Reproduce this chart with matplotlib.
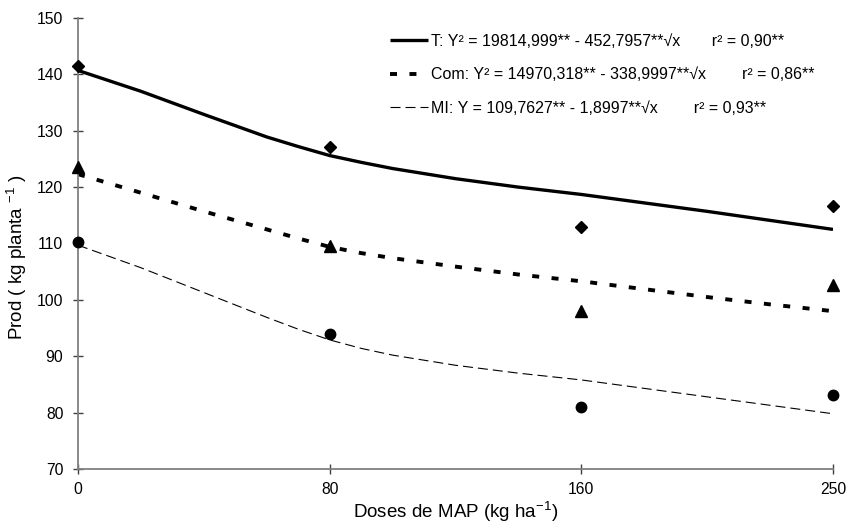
import matplotlib
matplotlib.use("Agg")
import matplotlib.pyplot as plt
import numpy as np

plt.rcParams['font.family'] = ['Liberation Sans', 'DejaVu Sans']
plt.rcParams['mathtext.fontset'] = 'custom'
plt.rcParams['mathtext.rm'] = 'Liberation Sans'
plt.rcParams['mathtext.it'] = 'Liberation Sans:italic'

# doses de MAP (categorias no eixo x)
doses = ['0', '80', '160', '250']

# valores observados
obs_T = [141.5, 127.2, 113.0, 116.6]
obs_Com = [123.5, 109.5, 98.0, 102.6]
obs_MI = [110.3, 94.0, 81.0, 83.2]

# curvas ajustadas (posicao em unidades de categoria)
curve_pos = [0, 0.25, 0.5, 0.75, 0.875, 1, 1.125, 1.25, 1.5, 1.75, 2, 2.25, 2.5, 2.75, 3]
fit_T = [140.7, 137.0, 132.9, 128.9, 127.2, 125.6, 124.4, 123.3, 121.5, 120.0, 118.7,
         117.2, 115.7, 114.1, 112.5]
fit_Com = [122.3, 119.0, 115.7, 112.5, 110.9, 109.4, 108.3, 107.4, 105.9, 104.5, 103.3,
           101.9, 100.5, 99.2, 98.0]
fit_MI = [109.7, 105.7, 101.3, 96.9, 94.8, 92.9, 91.4, 90.2, 88.4, 87.0, 85.8,
          84.3, 82.8, 81.3, 79.8]

labels = [
    "T: Y\u00b2 = 19814,999** - 452,7957**\u221ax       r\u00b2 = 0,90**",
    "Com: Y\u00b2 = 14970,318** - 338,9997**\u221ax        r\u00b2 = 0,86**",
    "MI: Y = 109,7627** - 1,8997**\u221ax        r\u00b2 = 0,93**",
]

fig = plt.figure(figsize=(8.49, 5.27), dpi=100)
ax = fig.add_axes([78 / 849, 1 - 469 / 527, 755 / 849, 451 / 527])

x = np.arange(len(doses))

l1, = ax.plot(curve_pos, fit_T, color='black', lw=2.4, solid_capstyle='butt')
l2, = ax.plot(curve_pos, fit_Com, color='black', lw=2.8, dashes=(1.8, 3.2))
l3, = ax.plot(curve_pos, fit_MI, color='black', lw=0.8, dashes=(9, 4.5))

ax.plot(x, obs_T, 'D', color='black', ms=6, clip_on=False, zorder=5)
ax.plot(x, obs_Com, '^', color='black', ms=8, clip_on=False, zorder=5)
ax.plot(x, obs_MI, 'o', color='black', ms=7.5, clip_on=False, zorder=5)

ax.set_xlim(0, 3)
ax.set_ylim(70, 150)
ax.set_yticks(np.arange(70, 151, 10))
ax.set_xticks(x)
ax.set_xticklabels(doses)

for s in ['top', 'right']:
    ax.spines[s].set_visible(False)
for s in ['left', 'bottom']:
    ax.spines[s].set_color('#808080')
    ax.spines[s].set_linewidth(1.3)

ax.tick_params(axis='both', direction='inout', length=7, width=1,
               color='#404040', labelsize=11.3)
ax.tick_params(axis='y', pad=7)
ax.tick_params(axis='x', pad=6)

ax.set_xlabel('Doses de MAP (kg ha$^{-1}$)', fontsize=13.5, labelpad=2)
ax.set_ylabel('Prod ( kg planta $^{-1}$ )', fontsize=13.5)
ax.yaxis.set_label_coords(-0.065, 0.47)

ax.legend([l1, l2, l3], labels, loc='upper left', bbox_to_anchor=(0.413, 0.965),
          frameon=False, fontsize=11.5, handlelength=2.4, handletextpad=0.2,
          labelspacing=1.15, borderpad=0, borderaxespad=0)

fig.savefig('out.png', dpi=100)
